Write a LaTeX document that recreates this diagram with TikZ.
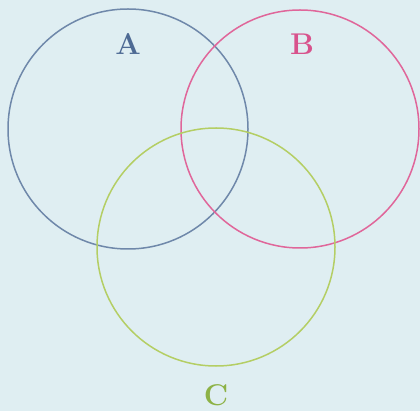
\documentclass[tikz,border=0pt]{standalone}
\begin{document}
\begin{tikzpicture}[x=1pt,y=-1pt,
  ring/.style={line width=1.5pt},
  lbl/.style={font=\fontsize{30}{32}\selectfont\bfseries}]
\definecolor{bg}{HTML}{DFEEF2}
\definecolor{ca}{HTML}{6F88AA}
\definecolor{cb}{HTML}{E0669A}
\definecolor{cc}{HTML}{B4CE64}
\definecolor{la}{HTML}{4E6A94}
\definecolor{lb}{HTML}{D8528C}
\definecolor{lc}{HTML}{8DB246}
\fill[bg] (0,0) rectangle (420,411);
\useasboundingbox (0,0) rectangle (420,411);
\coordinate (A) at (128,129);
\coordinate (B) at (300,129);
\coordinate (C) at (216,247);
\draw[ring,ca] (A) circle[radius=120];
\draw[ring,cb] (B) circle[radius=119];
\draw[ring,cc] (C) circle[radius=119];
\node[lbl,text=la] (la) at (128,44) {A};
\node[lbl,text=lb] (lb) at (302,44) {B};
\node[lbl,text=lc] (lc) at (216,395) {C};
\end{tikzpicture}
\end{document}
